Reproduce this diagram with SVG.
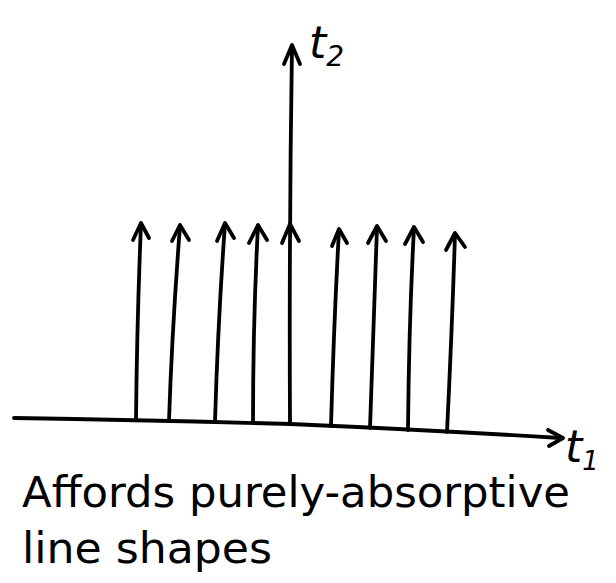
<svg xmlns="http://www.w3.org/2000/svg" width="616" height="583" viewBox="0 0 616 583">
<style>
.ln{fill:none;stroke:#000;stroke-width:3.8;stroke-linecap:round;stroke-linejoin:round}
.txt{font-family:"DejaVu Sans","Liberation Sans",sans-serif;fill:#000}
</style>
<rect width="616" height="583" fill="#fff"/>
<g id="axes">
<path class="ln" d="M14 418 Q150 420 290 424 Q430 430 560 438"/>
<path class="ln" d="M548 430 L563 438 L549 446"/>
<path class="ln" d="M290 424 Q289 240 292 46"/>
<path class="ln" d="M284 64 L292 45 L300 64"/>
</g>
<g id="sticks">
<path class="ln" d="M136 420 Q137 320 141 224"/><path class="ln" d="M133 240 L141 223 L149 238"/>
<path class="ln" d="M169 421 Q172 330 180 226"/><path class="ln" d="M172 241 L180 225 L189 240"/>
<path class="ln" d="M215 422 Q218 320 225 224"/><path class="ln" d="M217 241 L225 223 L234 238"/>
<path class="ln" d="M253 423 Q253 320 258 226"/><path class="ln" d="M249 243 L258 225 L267 240"/>
<path class="ln" d="M282 243 L290 224 L299 241"/>
<path class="ln" d="M331 426 Q334 320 339 230"/><path class="ln" d="M332 246 L339 229 L347 243"/>
<path class="ln" d="M370 428 Q374 320 377 227"/><path class="ln" d="M368 243 L377 226 L386 241"/>
<path class="ln" d="M408 430 Q409 320 414 228"/><path class="ln" d="M405 244 L414 227 L423 242"/>
<path class="ln" d="M447 432 Q452 330 455 234"/><path class="ln" d="M446 250 L455 233 L465 247"/>
</g>
<g id="labels">
<text class="txt" x="309" y="58" font-size="44" font-style="italic">t<tspan font-size="28" dy="8">2</tspan></text>
<text class="txt" x="565" y="462" font-size="44" font-style="italic">t<tspan font-size="26" dy="8">1</tspan></text>
<text class="txt" x="22" y="507" font-size="42" textLength="548" lengthAdjust="spacingAndGlyphs">Affords purely-absorptive</text>
<text class="txt" x="22" y="563" font-size="42" textLength="250" lengthAdjust="spacingAndGlyphs">line shapes</text>
</g>
</svg>
